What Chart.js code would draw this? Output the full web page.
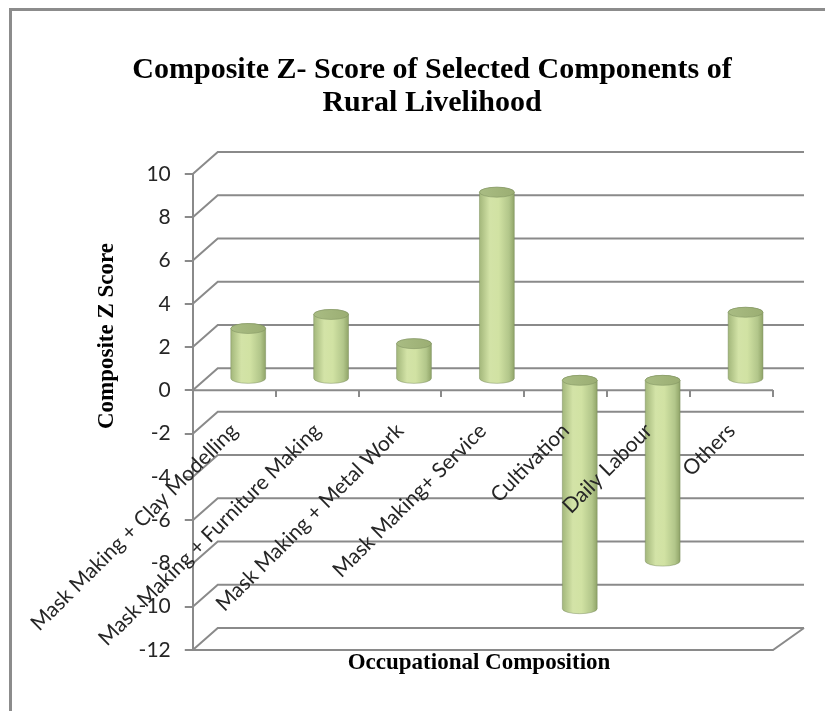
<!DOCTYPE html>
<html>
<head>
<meta charset="utf-8">
<title>Composite Z- Score of Selected Components of Rural Livelihood</title>
<script src="https://cdn.jsdelivr.net/npm/chart.js@4.4.1/dist/chart.umd.min.js"></script>
<style>
  html, body { margin: 0; padding: 0; background: #fff; }
  #grafico { display: block; }
</style>
</head>
<body>
<canvas id="grafico" width="825" height="711"></canvas>
<script>
// Dados do gráfico
const categorias = [
  "Mask Making + Clay Modelling",
  "Mask Making + Furniture Making",
  "Mask Making + Metal Work",
  "Mask Making+ Service",
  "Cultivation",
  "Daily Labour",
  "Others"
];
const zScores = [2.35, 3.0, 1.65, 8.65, -10.6, -8.4, 3.1];

const titulo = ["Composite Z- Score of Selected Components of", "Rural Livelihood"];
const tituloEixoY = "Composite Z Score";
const tituloEixoX = "Occupational Composition";

const eixoMin = -12;
const eixoMax = 10;
const eixoPasso = 2;

// Estilo
const corLinha = "#8a8a8a";
const corTexto = "#262626";
const fonteSerif = '"Liberation Serif", "Times New Roman", serif';
const profX = 25, profXDir = 31, profY = 22; // profundidade da parede do fundo
const barraDx = 14, barraDy = -11;           // cilindros no meio da profundidade

Chart.defaults.font.family = 'Lato, "Open Sans", sans-serif';

// Cilindro com sombreamento horizontal
function desenharCilindro(ctx, x, topo, fundo, largura) {
  const rx = largura / 2, ry = 5;

  const corpo = ctx.createLinearGradient(x - rx, 0, x + rx, 0);
  corpo.addColorStop(0, "#a3b77b");
  corpo.addColorStop(0.3, "#d3e3a7");
  corpo.addColorStop(0.55, "#d1e2a3");
  corpo.addColorStop(0.85, "#b2c68a");
  corpo.addColorStop(1, "#90a468");

  ctx.beginPath();
  ctx.moveTo(x - rx, topo);
  ctx.lineTo(x - rx, fundo);
  ctx.ellipse(x, fundo, rx, ry, 0, Math.PI, 0, true);
  ctx.lineTo(x + rx, topo);
  ctx.ellipse(x, topo, rx, ry, 0, 0, Math.PI, true);
  ctx.closePath();
  ctx.fillStyle = corpo;
  ctx.fill();
  ctx.strokeStyle = "rgba(120,140,90,0.6)";
  ctx.lineWidth = 0.8;
  ctx.stroke();

  const tampa = ctx.createLinearGradient(x - rx, 0, x + rx, 0);
  tampa.addColorStop(0, "#a9bc83");
  tampa.addColorStop(1, "#9bae73");
  ctx.beginPath();
  ctx.ellipse(x, topo, rx, ry, 0, 0, Math.PI * 2);
  ctx.fillStyle = tampa;
  ctx.fill();
  ctx.stroke();
}

// Paredes, grade do fundo, cilindros e títulos
const cenario3d = {
  id: "cenario3d",
  beforeDraw(chart) {
    const { ctx, width, height } = chart;
    ctx.save();
    ctx.strokeStyle = "#8c8c8c";
    ctx.lineWidth = 3;
    ctx.beginPath();
    ctx.moveTo(10.5, height);
    ctx.lineTo(10.5, 9.5);
    ctx.lineTo(width, 9.5);
    ctx.stroke();
    ctx.restore();
  },
  beforeDatasetsDraw(chart) {
    const { ctx, chartArea: a, scales: { y } } = chart;
    ctx.save();
    ctx.strokeStyle = corLinha;
    ctx.lineWidth = 2;
    y.ticks.forEach(t => {
      const py = y.getPixelForValue(t.value);
      ctx.beginPath();
      ctx.moveTo(a.left, py);
      ctx.lineTo(a.left + profX, py - profY);
      ctx.lineTo(a.right + profXDir, py - profY);
      ctx.stroke();
    });
    // borda frontal do chão
    const yChao = y.getPixelForValue(eixoMin);
    ctx.beginPath();
    ctx.moveTo(a.left, yChao);
    ctx.lineTo(a.right, yChao);
    ctx.lineTo(a.right + profXDir, yChao - profY);
    ctx.stroke();
    // eixo das categorias em zero
    const yZero = y.getPixelForValue(0);
    ctx.beginPath();
    ctx.moveTo(a.left, yZero);
    ctx.lineTo(a.right, yZero);
    ctx.stroke();
    ctx.restore();
  },
  afterDatasetsDraw(chart) {
    const { ctx } = chart;
    const meta = chart.getDatasetMeta(0);
    ctx.save();
    ctx.translate(barraDx, barraDy);
    meta.data.forEach(barra => {
      const { x, y, base, width } = barra.getProps(["x", "y", "base", "width"], true);
      desenharCilindro(ctx, x, Math.min(y, base), Math.max(y, base), width);
    });
    ctx.restore();
  },
  afterDraw(chart) {
    const { ctx } = chart;
    ctx.save();
    ctx.fillStyle = "#000";
    ctx.textAlign = "center";
    ctx.textBaseline = "alphabetic";

    ctx.font = "bold 30px " + fonteSerif;
    ctx.fillText(titulo[0], 432, 78);
    ctx.fillText(titulo[1], 432, 111);

    ctx.font = "bold 23px " + fonteSerif;
    ctx.fillText(tituloEixoX, 479, 669);

    ctx.translate(113, 336);
    ctx.rotate(-Math.PI / 2);
    ctx.fillText(tituloEixoY, 0, 0);
    ctx.restore();
  }
};

new Chart(document.getElementById("grafico"), {
  type: "bar",
  data: {
    labels: categorias,
    datasets: [{
      data: zScores,
      backgroundColor: "rgba(0,0,0,0)",
      borderWidth: 0,
      categoryPercentage: 0.42,
      barPercentage: 1
    }]
  },
  options: {
    responsive: false,
    animation: false,
    layout: { padding: { top: 174, right: 52, bottom: 61, left: 0 } },
    plugins: {
      legend: { display: false },
      tooltip: { enabled: false },
      title: { display: false }
    },
    scales: {
      x: {
        position: { y: 0 },
        offset: true,
        grid: { drawOnChartArea: false, tickLength: 7, color: corLinha, lineWidth: 2, offset: true },
        border: { display: false },
        ticks: {
          z: 1, // rótulos por cima dos cilindros
          autoSkip: false,
          maxRotation: 45,
          minRotation: 45,
          padding: 21,
          labelOffset: 0,
          color: corTexto,
          font: { size: 21 }
        }
      },
      y: {
        min: eixoMin,
        max: eixoMax,
        afterFit(escala) { escala.width = 188; },
        grid: { drawOnChartArea: false, tickLength: 8, color: corLinha, lineWidth: 2 },
        border: { display: true, color: corLinha, width: 2 },
        ticks: { stepSize: eixoPasso, padding: 14, color: corTexto, font: { size: 21 } }
      }
    }
  },
  plugins: [cenario3d]
});
</script>
</body>
</html>
